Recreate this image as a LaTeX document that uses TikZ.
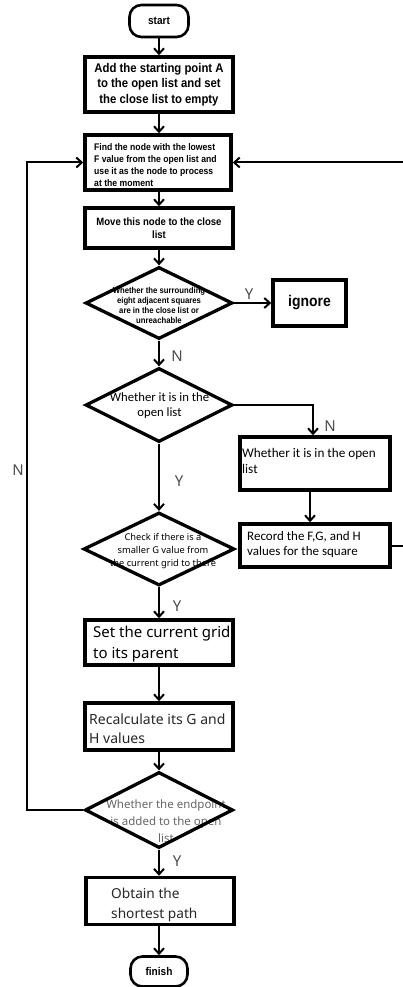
\documentclass[tikz,border=0pt]{standalone}
\usepackage{fontspec}
\usetikzlibrary{arrows.meta,shapes.geometric}
\newfontfamily\arb{Liberation Sans}[FakeStretch=0.9]
\newfontfamily\carl{Carlito}
\newfontfamily\nsans{Noto Sans}
\newcommand\myfs[2]{\fontsize{#1pt}{#2pt}\selectfont}
\begin{document}
\begin{tikzpicture}[x=1pt,y=-1pt,
  box/.style={draw, line width=3.5pt, inner sep=0pt},
  term/.style={draw, line width=2.6pt, rounded corners=12pt, inner sep=0pt},
  dia/.style={draw, diamond, line width=3.3pt, inner sep=0pt},
  conn/.style={line width=2pt, -{Straight Barb[length=5.5pt,width=10pt]}},
  lab/.style={font=\nsans\myfs{15}{15}, text=black!70, inner sep=0pt},
  txt/.style={inner sep=0pt},
]
\useasboundingbox (0,0) rectangle (403,987);
\clip (0,0) rectangle (403,987);

% texts drawn first (borders lie over them)
\node[txt, anchor=west, align=left, font=\arb\bfseries\myfs{9.6}{12}] (t2) at (94,165)
  {Find the node with the lowest\\F value from the open list and\\use it as the node to process\\at the moment};
\node[txt, align=center, font=\arb\bfseries\myfs{8.6}{10}] (t1) at (159,305)
  {Whether the surrounding\\eight adjacent squares\\are in the close list or\\unreachable};
\node[txt, align=center, font=\carl\myfs{12.7}{15}] (td2) at (159.5,406)
  {Whether it is in the\\open list};
\node[txt, anchor=west, align=left, font=\carl\myfs{13.2}{15.5}] (t4) at (242,461)
  {Whether it is in the open\\list};
\node[txt, anchor=west, align=left, font=\carl\myfs{13}{15}] (t5) at (247,545)
  {Record the F,G, and H\\values for the square};
\node[txt, align=center, font=\nsans\myfs{9.3}{13}] (t3) at (163,551)
  {Check if there is a\\smaller G value from\\the current grid to there};
\node[txt, anchor=west, align=left, font=\nsans\myfs{15}{21}] (t6) at (93,644)
  {Set the current grid\\to its parent};
\node[txt, anchor=west, align=left, font=\nsans\myfs{14}{19.5}, text=black!85] (t7) at (89,728.5)
  {Recalculate its G and\\H values};
\node[txt, align=center, font=\nsans\myfs{11.5}{17}, text=black!60] (t8) at (166,821)
  {Whether the endpoint\\is added to the open\\list};
\node[txt, anchor=west, align=left, font=\nsans\myfs{13.7}{20}, text=black!85] (t9) at (111,905)
  {Obtain the\\shortest path};

% shapes
\node[term, minimum width=59pt, minimum height=32pt, font=\arb\bfseries\myfs{11.2}{13}] (start) at (159,21) {start};
\node[box, minimum width=148pt, minimum height=55pt, align=center, font=\arb\bfseries\myfs{12.6}{15.5}] (b1) at (159,84.5)
  {Add the starting point A\\to the open list and set\\the close list to empty};
\node[box, minimum width=146pt, minimum height=55pt] (b2) at (158,162.5) {};
\node[box, minimum width=148pt, minimum height=40pt, align=center, font=\arb\bfseries\myfs{10.6}{12.5}] (b3) at (159,228)
  {Move this node to the close\\list};
\node[dia, minimum width=147pt, minimum height=72pt] (d1) at (159,303) {};
\node[box, minimum width=73pt, minimum height=46pt, font=\arb\bfseries\myfs{15.5}{15}] (ign) at (309.5,303) {ignore};
\node[dia, minimum width=147pt, minimum height=74pt] (d2) at (159,405) {};
\node[box, minimum width=150pt, minimum height=53pt] (b4) at (315,463.5) {};
\node[box, minimum width=150pt, minimum height=43pt] (b5) at (315,545.5) {};
\node[dia, minimum width=151pt, minimum height=73pt] (d3) at (159,549) {};
\node[box, minimum width=148pt, minimum height=45pt] (b6) at (159,642.5) {};
\node[box, minimum width=148pt, minimum height=47pt] (b7) at (159,726.5) {};
\node[dia, minimum width=148pt, minimum height=76pt] (d4) at (159,810) {};
\node[box, minimum width=148pt, minimum height=47pt] (b8) at (160,901) {};
\node[term, minimum width=57pt, minimum height=30pt, font=\arb\bfseries\myfs{11.2}{13}] (finish) at (159,971.5) {finish};

% connectors
\coordinate (lx) at (27,0);
\coordinate (rx) at (425,0);
\draw[conn] (start) -- (b1);
\draw[conn] (b1) -- (b1 |- b2.north);
\draw[conn] (b2.south -| b3) -- (b3);
\draw[conn] (b3) -- (d1);
\draw[conn] (d1.east) -- (ign.west);
\draw[conn] (d1) -- (d2);
\draw[conn] (d2.east) -| ([xshift=-2pt]b4.north);
\draw[conn] ([xshift=-5pt]b4.south) -- ([xshift=-5pt]b5.north);
\draw[conn] (d2) -- (d3);
\draw[conn] (d3) -- (b6);
\draw[conn] (b6) -- (b7);
\draw[conn] (b7) -- (d4);
\draw[conn] (d4.south) -- (d4.south |- b8.north);
\draw[conn] (b8.south -| finish) -- (finish);
\draw[conn] (d4.west) -- (d4.west -| lx) |- (b2.west);
\draw[conn] (b5.east) -- (b5.east -| rx) |- (b2.east);

% labels
\node[lab] (ly1) at (249,294) {Y};
\node[lab] (ln1) at (177,356) {N};
\node[lab] (ln2) at (330,426) {N};
\node[lab] (ly2) at (179,481) {Y};
\node[lab] (ly3) at (177,606) {Y};
\node[lab] (ly4) at (177,861) {Y};
\node[lab] (ln3) at (18,470) {N};
\end{tikzpicture}
\end{document}
